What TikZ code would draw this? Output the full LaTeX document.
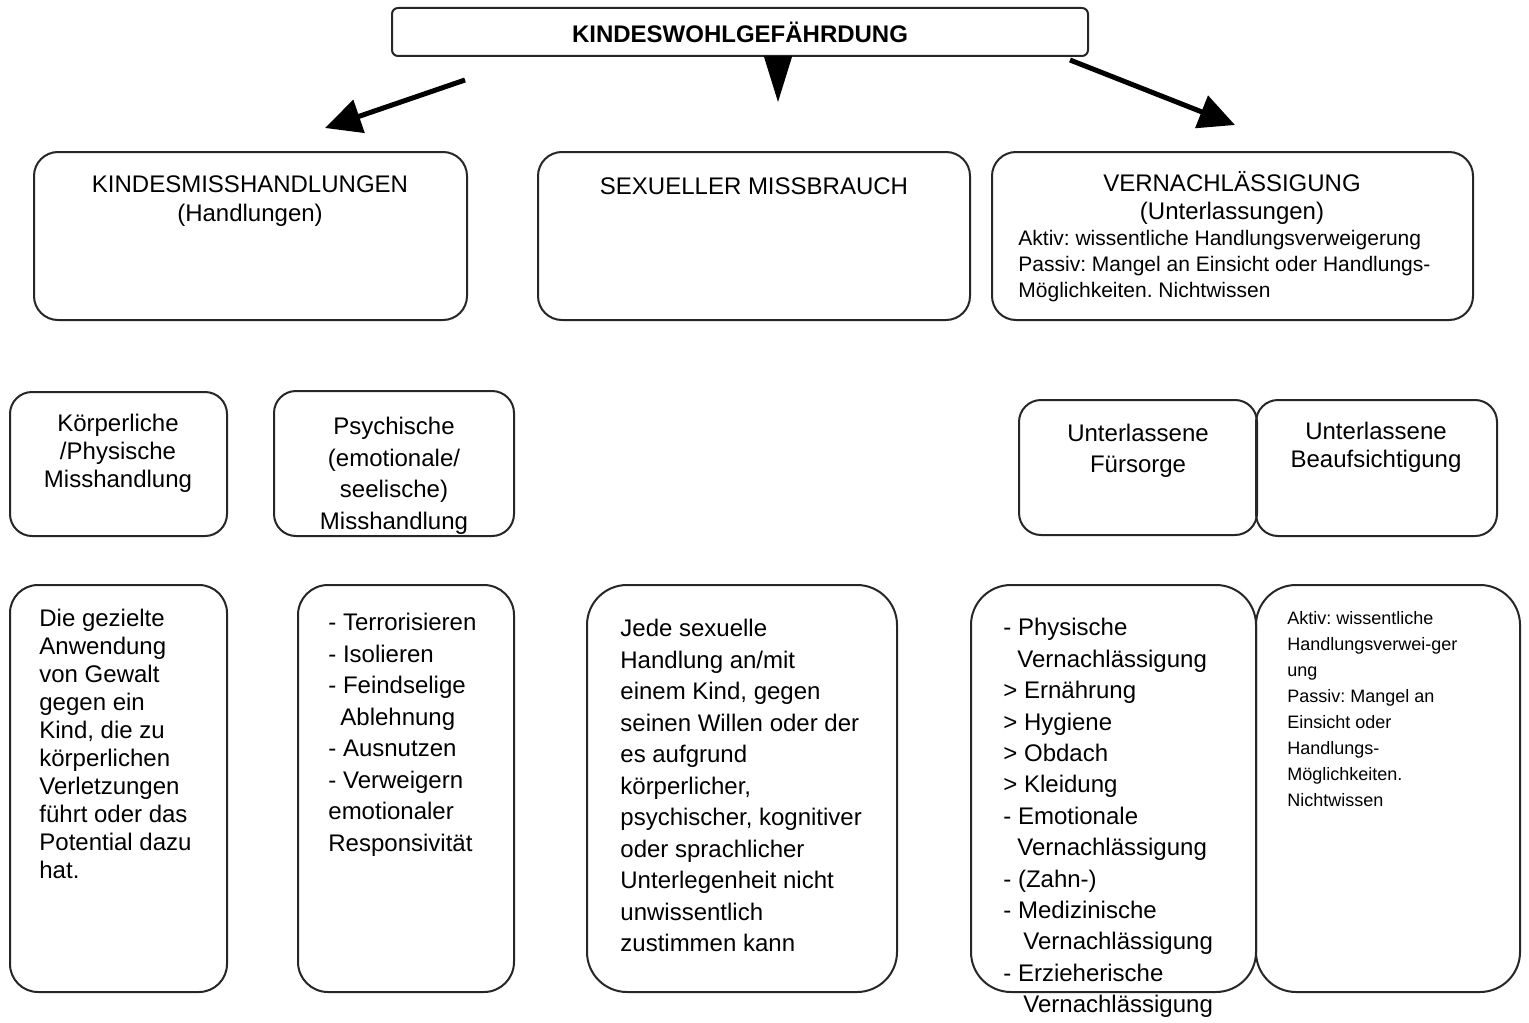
\documentclass[tikz,border=0pt]{standalone}
\usepackage{fontspec}
\setmainfont{Liberation Sans}
\usetikzlibrary{arrows.meta,fit}
\frenchspacing

\begin{document}
\begin{tikzpicture}[x=0.5pt,y=-0.5pt,
    box/.style={draw=black!85,line width=1pt,rounded corners=#1,inner sep=0pt},
    box/.default=12pt,
    ttl/.style={font=\fontsize{12}{#1}\selectfont,align=center,anchor=north,inner sep=0pt},
    ttl/.default=14.5pt,
    txt/.style={font=\fontsize{12}{#1}\selectfont,align=left,anchor=north west,inner sep=0pt},
    txt/.default=15.75pt,
    small/.style={font=\fontsize{#1}{13}\selectfont,align=left,anchor=north west,inner sep=0pt},
    pfeil/.style={line width=2.5pt,-{Triangle[length=18pt,width=17pt]}}]
    \useasboundingbox (0,0) rectangle (1529,1022);
    % oben
    \node[box=3pt,fit={(392,8) (1088,56)}] (kwg) {};
    \node[font=\bfseries\fontsize{12}{14}\selectfont,inner sep=0pt] (kwgT) at (kwg.center) {KINDESWOHLGEFÄHRDUNG};
    \coordinate (pl) at (465,80);
    \coordinate (plE) at (325,128);
    \coordinate (pm) at (778,56);
    \coordinate (pmE) at (778,102);
    \coordinate (pr) at (1070,60);
    \coordinate (prE) at (1235,125);
    \draw[pfeil] (pl)--(plE);
    \draw[line width=1pt,-{Triangle[length=23pt,width=14pt]}] (pm)--(pmE);
    \draw[pfeil] (pr)--(prE);
    % erste Reihe
    \node[box,fit={(34,152) (467,320)}] (kmh) {};
    \node[ttl] (kmhT) at (250,175) {KINDESMISSHANDLUNGEN\\(Handlungen)};
    \node[box,fit={(538,152) (970,320)}] (sex) {};
    \node[ttl] (sexT) at (754,177) {SEXUELLER MISSBRAUCH};
    \node[box,fit={(992,152) (1473,320)}] (ver) {};
    \node[ttl=14pt] (verT) at (1232,171) {VERNACHLÄSSIGUNG\\(Unterlassungen)};
    \node[small=10.5] (verD) at (1018,230) {Aktiv: wissentliche Handlungsverweigerung\\Passiv: Mangel an Einsicht oder Handlungs-\\Möglichkeiten. Nichtwissen};
    % zweite Reihe
    \node[box=11pt,fit={(10,392) (227,536)}] (koe) {};
    \node[ttl=14pt] (koeT) at (118,414) {Körperliche\\/Physische\\Misshandlung};
    \node[box=11pt,fit={(274,391) (514,536)}] (psy) {};
    \node[ttl=15.75pt] (psyT) at (394,417) {Psychische\\(emotionale/\\seelische)\\Misshandlung};
    \node[box=11pt,fit={(1019,400) (1257,535)}] (fue) {};
    \node[ttl=15.5pt] (fueT) at (1138,424) {Unterlassene\\Fürsorge};
    \node[box=11pt,fit={(1256,400) (1497,536)}] (auf) {};
    \node[ttl=14pt] (aufT) at (1376,422) {Unterlassene\\Beaufsichtigung};
    % dritte Reihe
    \node[box=14pt,fit={(10,585) (227,992)}] (gew) {};
    \node[txt=14pt] (gewT) at (39,609) {Die gezielte\\Anwendung\\von Gewalt\\gegen ein\\Kind, die zu\\körperlichen\\Verletzungen\\führt oder das\\Potential dazu\\hat.};
    \node[box=15pt,fit={(298,585) (514,992)}] (emo) {};
    \node[txt] (emoT) at (328,613) {- Terrorisieren\\- Isolieren\\- Feindselige\\\hspace*{6pt}Ablehnung\\- Ausnutzen\\- Verweigern\\emotionaler\\Responsivität};
    \node[box=20pt,fit={(587,585) (897,992)}] (han) {};
    \node[txt] (hanT) at (620,619) {Jede sexuelle\\Handlung an/mit\\einem Kind, gegen\\seinen Willen oder der\\es aufgrund\\körperlicher,\\psychischer, kognitiver\\oder sprachlicher\\Unterlegenheit nicht\\unwissentlich\\zustimmen kann};
    \node[box=20pt,fit={(971,585) (1256,992)}] (arten) {};
    \node[txt=15.7pt] (artenT) at (1003,618) {- Physische\\\hspace*{7pt}Vernachlässigung\\> Ernährung\\> Hygiene\\> Obdach\\> Kleidung\\- Emotionale\\\hspace*{7pt}Vernachlässigung\\- (Zahn-)\\- Medizinische\\\hspace*{10pt}Vernachlässigung\\- Erzieherische\\\hspace*{10pt}Vernachlässigung};
    \node[box=20pt,fit={(1256,585) (1520,992)}] (akt) {};
    \node[small=9] (aktT) at (1287,611) {Aktiv: wissentliche\\Handlungsverwei-ger\\ung\\Passiv: Mangel an\\Einsicht oder\\Handlungs-\\Möglichkeiten.\\Nichtwissen};
\end{tikzpicture}
\end{document}
